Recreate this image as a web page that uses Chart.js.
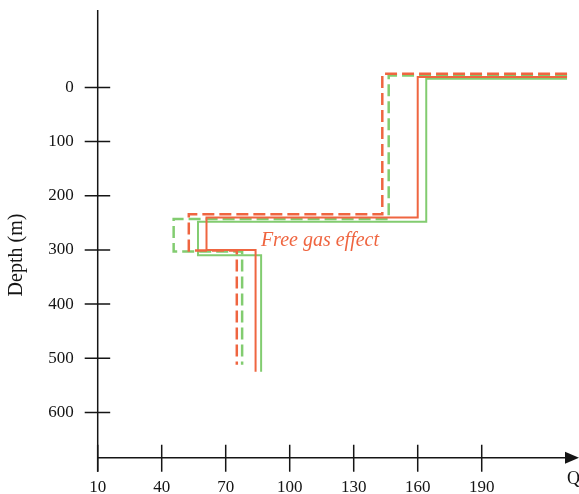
<!DOCTYPE html>
<html>
<head>
<meta charset="utf-8">
<script src="https://cdn.jsdelivr.net/npm/chart.js@4/dist/chart.umd.min.js"></script>
<style>
  html, body { margin: 0; padding: 0; background: #fff; }
  #wrap { width: 579px; height: 494px; position: relative; }
</style>
</head>
<body>
<div id="wrap"><canvas id="chart" width="579" height="494"></canvas></div>
<script>
// Q profiles versus depth (m); each profile is a stepped line
const redSolidQ      = [230, 160, 160, 61, 61, 84, 84];
const redSolidDepth  = [-19, -19, 240, 240, 300, 300, 525];
const redDashQ       = [230, 143.4, 143.4, 52.7, 52.7, 75.2, 75.2];
const redDashDepth   = [-25, -25, 234, 234, 301, 301, 512];
const greenSolidQ     = [230, 164, 164, 57, 57, 86.6, 86.6];
const greenSolidDepth = [-16, -16, 248, 248, 310, 310, 525];
const greenDashQ      = [230, 146.4, 146.4, 45.6, 45.6, 77.7, 77.7];
const greenDashDepth  = [-22, -22, 243, 243, 303, 303, 512];

const xTickValues = [10, 40, 70, 100, 130, 160, 190];
const yTickValues = [0, 100, 200, 300, 400, 500, 600];

const xTitle = 'Q';
const yTitle = 'Depth (m)';
const noteText = 'Free gas effect';
const noteQ = 86.5;
const noteDepth = 292;

const RED = '#EF6540';
const GREEN = '#82CC70';
const INK = '#151515';
const SERIF = '"Liberation Serif", "DejaVu Serif", serif';

function pts(qs, ds) { return qs.map((q, i) => ({ x: q, y: ds[i] })); }

// Axes drawn through the scale: lines, crossing tick marks, arrow, titles, note
const axisPlugin = {
  id: 'axisDecor',
  afterDraw(chart) {
    const ctx = chart.ctx;
    const xs = chart.scales.x, ys = chart.scales.y;
    const a = chart.chartArea;
    const x0 = xs.getPixelForValue(xs.min);
    const yb = a.bottom;
    ctx.save();
    ctx.strokeStyle = INK;
    ctx.fillStyle = INK;
    ctx.lineWidth = 1.5;
    // vertical axis, running a little below the horizontal one
    ctx.beginPath();
    ctx.moveTo(x0, a.top);
    ctx.lineTo(x0, yb + 14);
    ctx.stroke();
    // horizontal axis with arrow
    const xEnd = a.right;
    ctx.beginPath();
    ctx.moveTo(x0, yb);
    ctx.lineTo(xEnd - 12, yb);
    ctx.stroke();
    ctx.beginPath();
    ctx.moveTo(xEnd, yb);
    ctx.lineTo(xEnd - 14, yb - 6);
    ctx.lineTo(xEnd - 14, yb + 6);
    ctx.closePath();
    ctx.fill();
    // tick marks across the axes
    ctx.beginPath();
    xTickValues.forEach(v => {
      const px = xs.getPixelForValue(v);
      ctx.moveTo(px, yb - 13);
      ctx.lineTo(px, yb + 14);
    });
    yTickValues.forEach(v => {
      const py = ys.getPixelForValue(v);
      ctx.moveTo(x0 - 13, py);
      ctx.lineTo(x0 + 12.5, py);
    });
    ctx.stroke();
    // axis titles
    ctx.font = '20px ' + SERIF;
    ctx.textAlign = 'center';
    ctx.textBaseline = 'middle';
    ctx.save();
    ctx.translate(17, 255);
    ctx.rotate(-Math.PI / 2);
    ctx.fillText(yTitle, 0, 0);
    ctx.restore();
    ctx.font = '18px ' + SERIF;
    ctx.textAlign = 'left';
    ctx.textBaseline = 'alphabetic';
    ctx.fillText(xTitle, xEnd - 12, yb + 26);
    // annotation
    ctx.fillStyle = RED;
    ctx.font = 'italic 20px ' + SERIF;
    ctx.fillText(noteText, xs.getPixelForValue(noteQ), ys.getPixelForValue(noteDepth));
    ctx.restore();
  }
};

const lineStyle = (label, data, color, dashed) => ({
  label,
  data,
  showLine: true,
  fill: false,
  borderColor: color,
  borderWidth: dashed ? 2.5 : 2,
  borderDash: dashed ? [12, 5] : [],
  pointRadius: 0,
  pointHoverRadius: 0,
  tension: 0
});

new Chart(document.getElementById('chart'), {
  type: 'scatter',
  data: {
    datasets: [
      lineStyle('red solid', pts(redSolidQ, redSolidDepth), RED, false),
      lineStyle('red dashed', pts(redDashQ, redDashDepth), RED, true),
      lineStyle('green solid', pts(greenSolidQ, greenSolidDepth), GREEN, false),
      lineStyle('green dashed', pts(greenDashQ, greenDashDepth), GREEN, true)
    ]
  },
  options: {
    responsive: false,
    devicePixelRatio: 1,
    animation: false,
    layout: { padding: { top: 10, right: 0, left: 0, bottom: 0 } },
    plugins: { legend: { display: false }, tooltip: { enabled: false } },
    scales: {
      x: {
        type: 'linear',
        min: 10,
        max: 235.6,
        grid: { display: false, drawTicks: false },
        border: { display: false },
        afterBuildTicks: s => { s.ticks = xTickValues.map(v => ({ value: v })); },
        afterFit: s => { s.height = 36.3; s.paddingLeft = 0; s.paddingRight = 0; },
        ticks: {
          autoSkip: false,
          maxRotation: 0,
          padding: 20,
          color: INK,
          font: { family: SERIF, size: 17 },
          callback: v => String(v)
        }
      },
      y: {
        type: 'linear',
        reverse: true,
        min: -142.9,
        max: 683.6,
        grid: { display: false, drawTicks: false },
        border: { display: false },
        afterBuildTicks: s => { s.ticks = yTickValues.map(v => ({ value: v })); },
        afterFit: s => { s.width = 97.7; s.paddingTop = 0; s.paddingBottom = 0; },
        ticks: {
          autoSkip: false,
          padding: 24,
          color: INK,
          font: { family: SERIF, size: 17 },
          callback: v => String(v)
        }
      }
    }
  },
  plugins: [axisPlugin]
});
</script>
</body>
</html>
